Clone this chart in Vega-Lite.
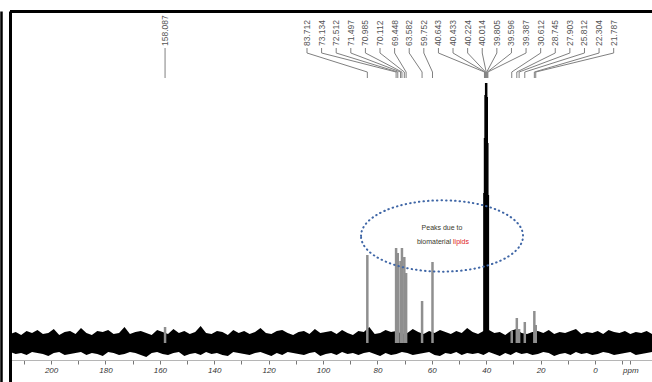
{
  "$schema": "https://vega.github.io/schema/vega-lite/v6.json",
  "width": 642,
  "height": 371,
  "autosize": "none",
  "padding": {"left": 10, "top": 11, "right": 0, "bottom": 0},
  "background": "white",
  "config": {"view": {"stroke": null}, "font": "Liberation Sans"},
  "resolve": {"axis": {"x": "independent", "y": "independent"}},
  "datasets": {
    "noise": [
      {"p":215,"hi":9,"lo":-9},{"p":213,"hi":11,"lo":-11},{"p":211,"hi":8,"lo":-10},{"p":209,"hi":12,"lo":-12},{"p":207,"hi":10,"lo":-9},{"p":205,"hi":13,"lo":-10},{"p":203,"hi":9,"lo":-11},{"p":201,"hi":10,"lo":-13},{"p":199,"hi":14,"lo":-10},{"p":197,"hi":8,"lo":-9},
      {"p":195,"hi":11,"lo":-12},{"p":193,"hi":12,"lo":-11},{"p":191,"hi":9,"lo":-10},{"p":189,"hi":15,"lo":-9},{"p":187,"hi":10,"lo":-12},{"p":185,"hi":8,"lo":-10},{"p":183,"hi":12,"lo":-11},{"p":181,"hi":11,"lo":-13},{"p":179,"hi":13,"lo":-9},{"p":177,"hi":9,"lo":-10},
      {"p":175,"hi":10,"lo":-12},{"p":173,"hi":16,"lo":-11},{"p":171,"hi":9,"lo":-9},{"p":169,"hi":11,"lo":-10},{"p":167,"hi":12,"lo":-12},{"p":165,"hi":10,"lo":-14},{"p":163,"hi":8,"lo":-10},{"p":161,"hi":13,"lo":-9},{"p":159,"hi":11,"lo":-11},{"p":157,"hi":9,"lo":-12},
      {"p":155,"hi":14,"lo":-10},{"p":153,"hi":10,"lo":-9},{"p":151,"hi":12,"lo":-13},{"p":149,"hi":9,"lo":-11},{"p":147,"hi":11,"lo":-10},{"p":145,"hi":17,"lo":-12},{"p":143,"hi":10,"lo":-9},{"p":141,"hi":9,"lo":-11},{"p":139,"hi":12,"lo":-10},{"p":137,"hi":11,"lo":-12},
      {"p":135,"hi":8,"lo":-13},{"p":133,"hi":13,"lo":-9},{"p":131,"hi":10,"lo":-10},{"p":129,"hi":12,"lo":-11},{"p":127,"hi":9,"lo":-12},{"p":125,"hi":11,"lo":-10},{"p":123,"hi":15,"lo":-9},{"p":121,"hi":10,"lo":-11},{"p":119,"hi":9,"lo":-13},{"p":117,"hi":12,"lo":-10},
      {"p":115,"hi":13,"lo":-12},{"p":113,"hi":10,"lo":-9},{"p":111,"hi":8,"lo":-10},{"p":109,"hi":11,"lo":-11},{"p":107,"hi":12,"lo":-12},{"p":105,"hi":9,"lo":-10},{"p":103,"hi":14,"lo":-9},{"p":101,"hi":10,"lo":-13},{"p":99,"hi":11,"lo":-11},{"p":97,"hi":12,"lo":-10},
      {"p":95,"hi":9,"lo":-12},{"p":93,"hi":13,"lo":-9},{"p":91,"hi":10,"lo":-11},{"p":89,"hi":8,"lo":-10},{"p":87,"hi":12,"lo":-12},{"p":85,"hi":11,"lo":-10},{"p":83,"hi":16,"lo":-9},{"p":81,"hi":9,"lo":-11},{"p":79,"hi":10,"lo":-13},{"p":77,"hi":13,"lo":-10},
      {"p":75,"hi":11,"lo":-12},{"p":73,"hi":12,"lo":-11},{"p":71,"hi":9,"lo":-9},{"p":69,"hi":10,"lo":-10},{"p":67,"hi":14,"lo":-12},{"p":65,"hi":11,"lo":-11},{"p":63,"hi":9,"lo":-10},{"p":61,"hi":12,"lo":-9},{"p":59,"hi":10,"lo":-12},{"p":57,"hi":13,"lo":-13},
      {"p":55,"hi":11,"lo":-10},{"p":53,"hi":9,"lo":-11},{"p":51,"hi":12,"lo":-9},{"p":49,"hi":10,"lo":-12},{"p":47,"hi":15,"lo":-10},{"p":45,"hi":11,"lo":-11},{"p":43,"hi":9,"lo":-10},{"p":41,"hi":12,"lo":-12},{"p":39,"hi":13,"lo":-9},{"p":37,"hi":10,"lo":-11},
      {"p":35,"hi":11,"lo":-13},{"p":33,"hi":8,"lo":-10},{"p":31,"hi":12,"lo":-12},{"p":29,"hi":14,"lo":-9},{"p":27,"hi":10,"lo":-11},{"p":25,"hi":9,"lo":-10},{"p":23,"hi":11,"lo":-12},{"p":21,"hi":12,"lo":-11},{"p":19,"hi":10,"lo":-9},{"p":17,"hi":13,"lo":-10},
      {"p":15,"hi":9,"lo":-13},{"p":13,"hi":11,"lo":-11},{"p":11,"hi":10,"lo":-10},{"p":9,"hi":12,"lo":-12},{"p":7,"hi":14,"lo":-9},{"p":5,"hi":9,"lo":-11},{"p":3,"hi":11,"lo":-10},{"p":1,"hi":10,"lo":-12},{"p":-1,"hi":12,"lo":-11},{"p":-3,"hi":9,"lo":-9},
      {"p":-5,"hi":13,"lo":-10},{"p":-7,"hi":11,"lo":-12},{"p":-9,"hi":10,"lo":-11},{"p":-11,"hi":12,"lo":-10},{"p":-13,"hi":9,"lo":-9},{"p":-15,"hi":11,"lo":-12},{"p":-17,"hi":10,"lo":-11},{"p":-19,"hi":12,"lo":-10},{"p":-21,"hi":9,"lo":-9}
    ],
    "peaks": [
      {"ppm":158.087,"h":16},
      {"ppm":83.712,"h":88},
      {"ppm":73.134,"h":95},
      {"ppm":72.512,"h":90},
      {"ppm":71.497,"h":82},
      {"ppm":70.985,"h":95},
      {"ppm":70.112,"h":86},
      {"ppm":69.448,"h":70},
      {"ppm":63.582,"h":42},
      {"ppm":59.752,"h":81},
      {"ppm":40.643,"h":150},
      {"ppm":40.433,"h":205},
      {"ppm":40.224,"h":248},
      {"ppm":40.014,"h":260},
      {"ppm":39.805,"h":246},
      {"ppm":39.596,"h":200},
      {"ppm":39.387,"h":148},
      {"ppm":30.612,"h":12},
      {"ppm":28.745,"h":25},
      {"ppm":27.903,"h":14},
      {"ppm":25.812,"h":21},
      {"ppm":22.304,"h":32},
      {"ppm":21.787,"h":18}
    ],
    "note": [
      {"line1": "Peaks due to", "line2a": "biomaterial", "line2b": "lipids"}
    ]
  },
  "layer": [
    {
      "data": {"values": [{"k": 331.5}]},
      "mark": {"type": "rule", "stroke": "black", "strokeWidth": 3},
      "encoding": {
        "y": {"field": "k", "type": "quantitative", "scale": {"domain": [-39, 332], "nice": false, "zero": false}, "axis": null}
      }
    },
    {
      "data": {"name": "noise"},
      "mark": {"type": "area", "color": "black", "interpolate": "linear"},
      "encoding": {
        "x": {
          "field": "p", "type": "quantitative",
          "scale": {"domain": [215.1, -20.96], "nice": false, "zero": false},
          "axis": {
            "orient": "bottom", "offset": -22, "title": null, "grid": false,
            "values": [210,200,190,180,170,160,150,140,130,120,110,100,90,80,70,60,50,40,30,20,10,0,-10,-13],
            "labelExpr": "datum.value == -13 ? 'ppm' : (datum.value % 20 == 0 ? datum.label : '')",
            "domainColor": "#b5b5b5", "domainWidth": 1,
            "tickColor": "#777777",
            "tickSize": 4,
            "labelFontStyle": "italic", "labelFontSize": 8, "labelColor": "#333333",
            "labelPadding": 2, "labelFlush": false, "labelOverlap": false
          }
        },
        "y": {
          "field": "hi", "type": "quantitative",
          "scale": {"domain": [-39, 332], "nice": false, "zero": false},
          "axis": {"orient": "left", "domainColor": "black", "domainWidth": 3, "ticks": false, "labels": false, "title": null, "grid": false}
        },
        "y2": {"field": "lo"}
      }
    },
    {
      "data": {"name": "peaks"},
      "mark": {"type": "rule", "strokeWidth": 2.5},
      "encoding": {
        "x": {"field": "ppm", "type": "quantitative", "scale": {"domain": [215.1, -20.96], "nice": false, "zero": false}, "axis": null},
        "y": {"field": "h", "type": "quantitative", "scale": {"domain": [-39, 332], "nice": false, "zero": false},
          "axis": {"orient": "left", "offset": 9, "domainColor": "black", "domainWidth": 2.5, "ticks": false, "labels": false, "title": null, "grid": false}},
        "y2": {"datum": 0},
        "color": {"condition": {"test": "datum.h > 140", "value": "black"}, "value": "#8f8f8f"}
      }
    },
    {
      "data": {"name": "peaks"},
      "transform": [
        {"window": [{"op": "row_number", "as": "idx"}], "sort": [{"field": "ppm", "order": "descending"}]},
        {"calculate": "datum.ppm > 100 ? datum.ppm : 105.9 - (datum.idx - 2) * 5.37", "as": "lx"},
        {"calculate": "295", "as": "ya"},
        {"calculate": "290", "as": "yb"}
      ],
      "mark": {"type": "rule", "color": "#808080", "strokeWidth": 1},
      "encoding": {
        "x": {"field": "lx", "type": "quantitative", "scale": {"domain": [215.1, -20.96], "nice": false, "zero": false}, "axis": null},
        "y": {"field": "ya", "type": "quantitative", "scale": {"domain": [-39, 332], "nice": false, "zero": false}, "axis": null},
        "y2": {"field": "yb"}
      }
    },
    {
      "data": {"name": "peaks"},
      "transform": [
        {"window": [{"op": "row_number", "as": "idx"}], "sort": [{"field": "ppm", "order": "descending"}]},
        {"calculate": "datum.ppm > 100 ? datum.ppm : 105.9 - (datum.idx - 2) * 5.37", "as": "lx"},
        {"calculate": "290", "as": "ya"},
        {"calculate": "271", "as": "yb"}
      ],
      "mark": {"type": "rule", "color": "#808080", "strokeWidth": 1},
      "encoding": {
        "x": {"field": "lx", "type": "quantitative", "scale": {"domain": [215.1, -20.96], "nice": false, "zero": false}, "axis": null},
        "x2": {"field": "ppm"},
        "y": {"field": "ya", "type": "quantitative", "scale": {"domain": [-39, 332], "nice": false, "zero": false}, "axis": null},
        "y2": {"field": "yb"}
      }
    },
    {
      "data": {"name": "peaks"},
      "transform": [
        {"calculate": "271", "as": "ya"},
        {"calculate": "265", "as": "yb"}
      ],
      "mark": {"type": "rule", "color": "#808080", "strokeWidth": 1},
      "encoding": {
        "x": {"field": "ppm", "type": "quantitative", "scale": {"domain": [215.1, -20.96], "nice": false, "zero": false}, "axis": null},
        "y": {"field": "ya", "type": "quantitative", "scale": {"domain": [-39, 332], "nice": false, "zero": false}, "axis": null},
        "y2": {"field": "yb"}
      }
    },
    {
      "data": {"name": "peaks"},
      "transform": [
        {"window": [{"op": "row_number", "as": "idx"}], "sort": [{"field": "ppm", "order": "descending"}]},
        {"calculate": "datum.ppm > 100 ? datum.ppm : 105.9 - (datum.idx - 2) * 5.37", "as": "lx"},
        {"calculate": "297", "as": "ya"},
        {"calculate": "format(datum.ppm, '.3f')", "as": "lab"}
      ],
      "mark": {"type": "text", "angle": 270, "align": "left", "baseline": "middle", "fontSize": 8.5, "color": "#555555"},
      "encoding": {
        "x": {"field": "lx", "type": "quantitative", "scale": {"domain": [215.1, -20.96], "nice": false, "zero": false}, "axis": null},
        "y": {"field": "ya", "type": "quantitative", "scale": {"domain": [-39, 332], "nice": false, "zero": false}, "axis": null},
        "text": {"field": "lab"}
      }
    },
    {
      "data": {"name": "note"},
      "transform": [
        {"calculate": "56.25", "as": "cx"},
        {"calculate": "107", "as": "cy"}
      ],
      "mark": {
        "type": "point",
        "shape": "M -1 0 A 1 0.44 0 1 1 1 0 A 1 0.44 0 1 1 -1 0 Z",
        "size": 26244, "filled": false, "stroke": "#3f66a6", "strokeWidth": 2,
        "strokeDash": [0.5, 4], "strokeCap": "round", "opacity": 1
      },
      "encoding": {
        "x": {"field": "cx", "type": "quantitative", "scale": {"domain": [215.1, -20.96], "nice": false, "zero": false}, "axis": null},
        "y": {"field": "cy", "type": "quantitative", "scale": {"domain": [-39, 332], "nice": false, "zero": false}, "axis": null}
      }
    },
    {
      "data": {"name": "note"},
      "transform": [
        {"calculate": "56.25", "as": "cx"},
        {"calculate": "115", "as": "cy"}
      ],
      "mark": {"type": "text", "align": "center", "baseline": "middle", "fontSize": 7, "color": "#3a3a2e"},
      "encoding": {
        "x": {"field": "cx", "type": "quantitative", "scale": {"domain": [215.1, -20.96], "nice": false, "zero": false}, "axis": null},
        "y": {"field": "cy", "type": "quantitative", "scale": {"domain": [-39, 332], "nice": false, "zero": false}, "axis": null},
        "text": {"field": "line1"}
      }
    },
    {
      "data": {"name": "note"},
      "transform": [
        {"calculate": "52.9", "as": "cx"},
        {"calculate": "101", "as": "cy"}
      ],
      "mark": {"type": "text", "align": "right", "baseline": "middle", "fontSize": 7, "color": "#3a3a2e"},
      "encoding": {
        "x": {"field": "cx", "type": "quantitative", "scale": {"domain": [215.1, -20.96], "nice": false, "zero": false}, "axis": null},
        "y": {"field": "cy", "type": "quantitative", "scale": {"domain": [-39, 332], "nice": false, "zero": false}, "axis": null},
        "text": {"field": "line2a"}
      }
    },
    {
      "data": {"name": "note"},
      "transform": [
        {"calculate": "52.2", "as": "cx"},
        {"calculate": "101", "as": "cy"}
      ],
      "mark": {"type": "text", "align": "left", "baseline": "middle", "fontSize": 7, "color": "#e0201b"},
      "encoding": {
        "x": {"field": "cx", "type": "quantitative", "scale": {"domain": [215.1, -20.96], "nice": false, "zero": false}, "axis": null},
        "y": {"field": "cy", "type": "quantitative", "scale": {"domain": [-39, 332], "nice": false, "zero": false}, "axis": null},
        "text": {"field": "line2b"}
      }
    }
  ]
}
